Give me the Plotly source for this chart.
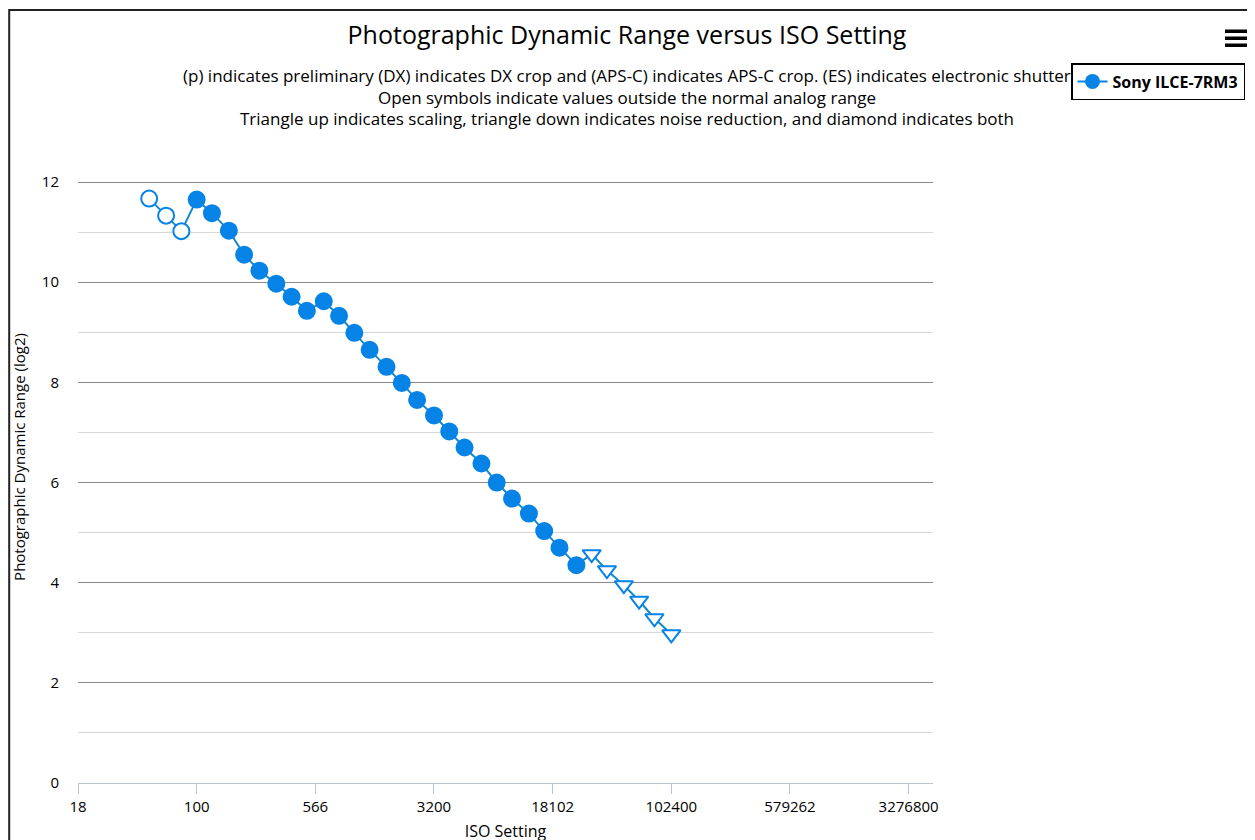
import plotly.graph_objects as go

# ---- data ----
iso = [50, 64, 80, 100, 125, 160, 200, 250, 320, 400, 500, 640, 800, 1000, 1250,
       1600, 2000, 2500, 3200, 4000, 5000, 6400, 8000, 10000, 12800, 16000, 20000,
       25600, 32000, 40000, 51200, 64000, 80000, 102400]
dr = [11.67, 11.33, 11.02, 11.65, 11.38, 11.03, 10.55, 10.23, 9.97, 9.71, 9.43,
      9.62, 9.33, 8.99, 8.65, 8.31, 7.99, 7.65, 7.34, 7.02, 6.70, 6.38, 6.00, 5.68,
      5.38, 5.03, 4.70, 4.35, 4.57, 4.25, 3.95, 3.64, 3.29, 2.97]
# marker kind per point: 'open' = outside analog range, 'fill' = normal, 'nr' = noise reduction
kind = ['open'] * 3 + ['fill'] * 25 + ['nr'] * 6

x_tickvals = [17.68, 100, 565.69, 3200, 18102, 102400, 579262, 3276800]
x_ticktext = ['18', '100', '566', '3200', '18102', '102400', '579262', '3276800']
series_name = 'Sony ILCE-7RM3'

BLUE = '#0683e6'
LINE = '#1589c8'

symbols = ['triangle-down' if k == 'nr' else 'circle' for k in kind]
fills = [BLUE if k == 'fill' else 'white' for k in kind]
sizes = [16 if k != 'nr' else 16 for k in kind]

fig = go.Figure()
fig.add_trace(go.Scatter(
    x=iso, y=dr, mode='lines+markers', showlegend=False,
    line=dict(color=LINE, width=2),
    marker=dict(symbol=symbols, color=fills, size=sizes, opacity=1,
                line=dict(color=BLUE, width=2)),
))
# legend proxy
fig.add_trace(go.Scatter(
    x=[None], y=[None], mode='lines+markers', name='<b>' + series_name + '</b>',
    line=dict(color=BLUE, width=2),
    marker=dict(symbol='circle', color=BLUE, size=15),
))

OFF = 8  # page body margin in the screenshot
W, H = 1255, 840
L, R, T, B = 78 - OFF, 933 - OFF, 131 - OFF, 783 - OFF
pw, ph = R - L, B - T

def px(x):
    return (x - OFF - L) / pw

def py(y):
    return (B - (y - OFF)) / ph

shapes = [
    # outer border
    dict(type='rect', xref='paper', yref='paper', x0=px(9.2), x1=px(1275),
         y0=py(860), y1=py(10), line=dict(color='#222', width=2), layer='below'),
]
# menu icon bars
for yy in (31, 38, 45):
    shapes.append(dict(type='rect', xref='paper', yref='paper', x0=px(1225), x1=px(1247),
                       y0=py(yy + 2), y1=py(yy - 1.5), fillcolor='black', line=dict(width=0)))

FONT = 'Open Sans, DejaVu Sans'
fig.update_layout(
    width=W, height=H,
    margin=dict(l=L, r=W - R, t=T, b=H - B, autoexpand=False),
    paper_bgcolor='white', plot_bgcolor='white',
    font=dict(family=FONT, color='#222'),
    title=dict(text='Photographic Dynamic Range versus ISO Setting',
               x=(627 - OFF) / W, xref='container', xanchor='center',
               y=1 - (35 - OFF) / H, yref='container', yanchor='middle',
               font=dict(size=25, color='black')),
    xaxis=dict(type='log', range=[1.2474, 6.670], automargin=False,
               tickvals=x_tickvals, ticktext=x_ticktext,
               showgrid=False, zeroline=False,
               showline=True, linecolor='#b8c4d0', linewidth=1,
               ticks='outside', ticklen=10, tickcolor='#b8c4d0',
               tickfont=dict(size=15, color='black'),
               title=dict(text='ISO Setting', font=dict(size=16, color='black'), standoff=10)),
    yaxis=dict(range=[0, 13.02], tickvals=[0, 2, 4, 6, 8, 10, 12], automargin=False,
               showgrid=True, gridcolor='#8a8a8a', gridwidth=1,
               zeroline=False, showline=False, ticks='',
               ticklabelstandoff=18,
               minor=dict(tickvals=[1, 3, 5, 7, 9, 11, 13], showgrid=True,
                          gridcolor='#d8d8d8', gridwidth=1),
               tickfont=dict(size=15, color='black'),
               title=dict(text='Photographic Dynamic Range (log2)',
                          font=dict(size=15, color='black'), standoff=12)),
    legend=dict(x=px(1071), y=py(63), xanchor='left', yanchor='top',
                bordercolor='black', borderwidth=1.5, bgcolor='white',
                font=dict(size=16, color='black', family=FONT),
                itemwidth=30),
    shapes=shapes,
    annotations=[
        dict(text=t, xref='paper', yref='paper', x=px(627), y=py(yc), xanchor='center',
             yanchor='middle', showarrow=False, font=dict(size=17, color='black'))
        for t, yc in [
            ('(p) indicates preliminary (DX) indicates DX crop and (APS-C) indicates APS-C crop. (ES) indicates electronic shutter', 76),
            ('Open symbols indicate values outside the normal analog range', 97),
            ('Triangle up indicates scaling, triangle down indicates noise reduction, and diamond indicates both', 118),
        ]
    ],
)

fig.write_html('out.html')
